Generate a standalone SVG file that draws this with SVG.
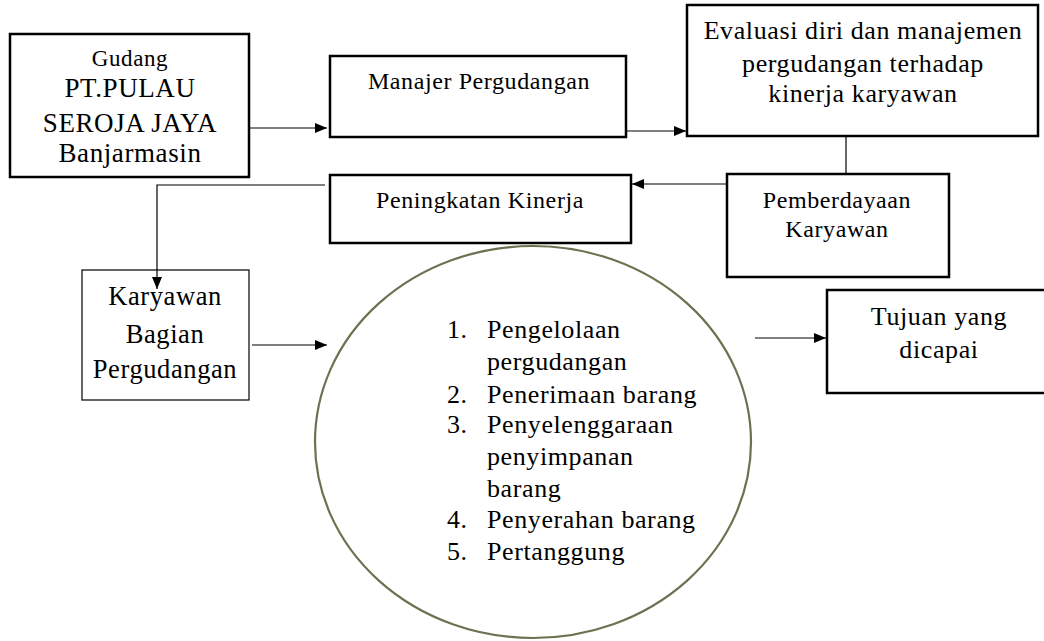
<svg xmlns="http://www.w3.org/2000/svg" width="1044" height="641" viewBox="0 0 1044 641">
<style>
.box{fill:#fff;stroke:#000;stroke-width:2.5}
.thin{fill:#fff;stroke:#000;stroke-width:1.2}
.t{fill:#000;text-anchor:middle;letter-spacing:0.6px}
.l{fill:#000;font-size:26px;letter-spacing:0.6px}
.c{fill:none;stroke:#000;stroke-width:1.2}
</style>
<defs>
<marker id="ah" markerWidth="12" markerHeight="10" refX="12" refY="5" orient="auto" markerUnits="userSpaceOnUse">
<path d="M0,0 L12,5 L0,10 Z" fill="#000"/>
</marker>
</defs>
<rect width="1044" height="641" fill="#fff"/>
<g font-family="'Liberation Serif', 'Times New Roman', 'DejaVu Serif', serif">
<g id="gudang">
<rect class="box" x="10" y="34" width="239" height="143"/>
<text class="t" x="130" y="66" font-size="23">Gudang</text>
<text class="t" x="130" y="97" font-size="27">PT.PULAU</text>
<text class="t" x="130" y="132" font-size="27">SEROJA JAYA</text>
<text class="t" x="130" y="162" font-size="27">Banjarmasin</text>
</g>
<g id="manajer">
<rect class="box" x="330" y="56" width="296" height="81"/>
<text class="t" x="479" y="89" font-size="24">Manajer Pergudangan</text>
</g>
<g id="evaluasi">
<rect class="box" x="687" y="5" width="351" height="131"/>
<text class="t" x="863" y="39" font-size="26">Evaluasi diri dan manajemen</text>
<text class="t" x="863" y="72" font-size="26">pergudangan terhadap</text>
<text class="t" x="863" y="102" font-size="26">kinerja karyawan</text>
</g>
<g id="peningkatan">
<rect class="box" x="330" y="175" width="301" height="68"/>
<text class="t" x="480" y="208" font-size="24">Peningkatan Kinerja</text>
</g>
<g id="pemberdayaan">
<rect class="box" x="727" y="174" width="222" height="103"/>
<text class="t" x="837" y="208" font-size="24">Pemberdayaan</text>
<text class="t" x="837" y="237" font-size="24">Karyawan</text>
</g>
<g id="karyawan">
<rect class="thin" x="82" y="270" width="167" height="130"/>
<text class="t" x="165" y="305" font-size="26.5">Karyawan</text>
<text class="t" x="165" y="343" font-size="26.5">Bagian</text>
<text class="t" x="165" y="378" font-size="26.5">Pergudangan</text>
</g>
<g id="proses">
<ellipse cx="533" cy="442" rx="218" ry="196" fill="none" stroke="#6e7150" stroke-width="2.2"/>
<text class="l" x="447" y="338">1.</text>
<text class="l" x="487" y="338">Pengelolaan</text>
<text class="l" x="487" y="370">pergudangan</text>
<text class="l" x="447" y="403">2.</text>
<text class="l" x="487" y="403">Penerimaan barang</text>
<text class="l" x="447" y="433">3.</text>
<text class="l" x="487" y="433">Penyelenggaraan</text>
<text class="l" x="487" y="465">penyimpanan</text>
<text class="l" x="487" y="497">barang</text>
<text class="l" x="447" y="528">4.</text>
<text class="l" x="487" y="528">Penyerahan barang</text>
<text class="l" x="447" y="560">5.</text>
<text class="l" x="487" y="560">Pertanggung</text>
</g>
<g id="tujuan">
<rect class="box" x="827" y="290" width="220" height="103"/>
<text class="t" x="939" y="325" font-size="26">Tujuan yang</text>
<text class="t" x="939" y="358" font-size="26">dicapai</text>
</g>
</g>
<g id="connectors">
<line class="c" x1="249" y1="128" x2="327" y2="128" marker-end="url(#ah)"/>
<line class="c" x1="626" y1="131" x2="686" y2="131" marker-end="url(#ah)"/>
<line class="c" x1="846" y1="136" x2="846" y2="174"/>
<line class="c" x1="727" y1="184" x2="632" y2="184" marker-end="url(#ah)"/>
<polyline class="c" points="325,185 157,185 157,289" marker-end="url(#ah)"/>
<line class="c" x1="252" y1="345" x2="327" y2="345" marker-end="url(#ah)"/>
<line class="c" x1="755" y1="338" x2="826" y2="338" marker-end="url(#ah)"/>
</g>
</svg>
